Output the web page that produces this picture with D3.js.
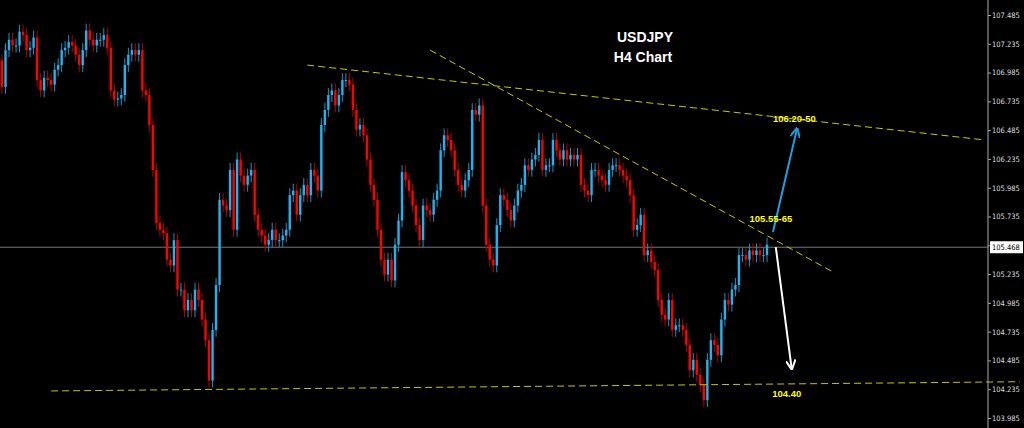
<!DOCTYPE html>
<html>
<head>
<meta charset="utf-8">
<script src="https://cdn.jsdelivr.net/npm/d3@7"></script>
<style>
  html, body { margin: 0; padding: 0; background: #000; }
  svg { display: block; }
</style>
</head>
<body>
<svg></svg>
<script>
const width = 1024;
const height = 428;

// closing prices, H4 candles (open = previous close)
const closes = [
  106.86, 107.18, 107.27, 107.22, 107.22, 107.34, 107.31, 107.18, 107.20, 107.29,
  106.92, 106.83, 106.94, 106.92, 106.88, 107.01, 107.05, 107.18, 107.20, 107.25,
  107.22, 107.14, 107.05, 107.18, 107.35, 107.27, 107.22, 107.27, 107.27, 107.31,
  107.20, 106.83, 106.75, 106.76, 106.79, 107.05, 107.14, 107.18, 107.14, 107.18,
  106.83, 106.79, 106.53, 106.14, 105.68, 105.62, 105.59, 105.36, 105.31, 105.53,
  105.10, 105.10, 104.92, 105.01, 104.92, 105.10, 105.01, 104.84, 104.66, 104.31,
  104.75, 105.14, 105.88, 105.83, 105.79, 106.14, 105.62, 106.23, 106.09, 106.01,
  106.09, 106.14, 105.75, 105.62, 105.57, 105.49, 105.53, 105.62, 105.53, 105.53,
  105.57, 105.62, 105.92, 105.96, 105.75, 105.92, 106.01, 105.92, 106.14, 106.09,
  105.96, 106.53, 106.66, 106.79, 106.83, 106.70, 106.79, 106.92, 106.92, 106.88,
  106.66, 106.49, 106.53, 106.44, 106.23, 106.01, 105.88, 105.62, 105.36, 105.23,
  105.36, 105.18, 105.49, 105.70, 106.12, 106.05, 105.96, 105.83, 105.66, 105.53,
  105.83, 105.79, 105.75, 105.88, 105.96, 106.31, 106.44, 106.40, 106.31, 106.14,
  106.01, 105.96, 106.05, 106.14, 106.66, 106.62, 106.70, 105.83, 105.49, 105.36,
  105.31, 105.66, 105.92, 105.88, 105.79, 105.70, 105.83, 105.96, 106.01, 106.18,
  106.14, 106.23, 106.27, 106.40, 106.14, 106.18, 106.18, 106.40, 106.31, 106.23,
  106.31, 106.23, 106.27, 106.23, 106.27, 106.01, 105.96, 105.92, 106.14, 106.14,
  106.09, 106.05, 106.01, 106.14, 106.18, 106.18, 106.14, 106.09, 106.05, 105.92,
  105.62, 105.66, 105.75, 105.40, 105.44, 105.34, 105.27, 105.01, 104.88, 104.84,
  105.01, 104.75, 104.79, 104.79, 104.75, 104.62, 104.40, 104.49, 104.36, 104.27,
  104.14, 104.49, 104.66, 104.62, 104.53, 104.84, 105.01, 104.97, 105.10, 105.14,
  105.40, 105.40, 105.36, 105.44, 105.40, 105.44, 105.40, 105.40, 105.49
];
const firstOpen = 107.09;
const wick = 0.06;

const priceTicks = [107.485, 107.235, 106.985, 106.735, 106.485, 106.235, 105.985,
  105.735, 105.485, 105.235, 104.985, 104.735, 104.485, 104.235, 103.985];
const lastPrice = 105.468;

// trend lines as [candle index, price]
const trendLines = [
  [[87, 107.05], [280, 106.40]],
  [[122, 107.18], [237, 105.25]],
  [[14, 104.22], [290, 104.30]]
];
const arrows = [
  { from: [219.7, 105.60], to: [226.5, 106.49], color: "#1e9fe0" },
  { from: [220.5, 105.47], to: [225, 104.42], color: "#ffffff" }
];
const levelLabels = [
  { at: [219.7, 106.56], text: "106.20-50" },
  { at: [213, 105.69], text: "105.55-65" },
  { at: [219.5, 104.17], text: "104.40" }
];

const candles = closes.map((c, i) => {
  const o = i === 0 ? firstOpen : closes[i - 1];
  return { i, o, c, h: Math.max(o, c) + wick, l: Math.min(o, c) - wick };
});

const axisX = 988;
const x = d3.scaleLinear().domain([0, closes.length - 1]).range([2, 767]);
const y = d3.scaleLinear().domain([103.985, 107.485]).range([418, 15]);

const svg = d3.select("svg").attr("width", width).attr("height", height);
svg.append("rect").attr("width", width).attr("height", height).attr("fill", "#000");

// current price line
svg.append("line")
  .attr("x1", 0).attr("x2", axisX)
  .attr("y1", y(lastPrice)).attr("y2", y(lastPrice))
  .attr("stroke", "#777").attr("stroke-width", 1);

// candles
const g = svg.append("g");
g.selectAll("line.wick")
  .data(candles)
  .join("line")
  .attr("x1", d => x(d.i)).attr("x2", d => x(d.i))
  .attr("y1", d => y(d.h)).attr("y2", d => y(d.l))
  .attr("stroke", d => d.c >= d.o ? "#1596c8" : "#b00000")
  .attr("stroke-width", 1);
g.selectAll("rect")
  .data(candles)
  .join("rect")
  .attr("x", d => x(d.i) - 1.2)
  .attr("width", 2.4)
  .attr("y", d => y(Math.max(d.o, d.c)))
  .attr("height", d => Math.max(1, Math.abs(y(d.o) - y(d.c))))
  .attr("fill", d => d.c >= d.o ? "#1eb4f0" : "#ff0000");

// trend lines
svg.append("g").selectAll("line")
  .data(trendLines)
  .join("line")
  .attr("x1", d => x(d[0][0])).attr("y1", d => y(d[0][1]))
  .attr("x2", d => x(d[1][0])).attr("y2", d => y(d[1][1]))
  .attr("stroke", "#c8c800")
  .attr("stroke-width", 1)
  .attr("stroke-dasharray", "7,4");

// arrows
const defs = svg.append("defs");
arrows.forEach((a, k) => {
  defs.append("marker")
    .attr("id", "arr" + k)
    .attr("viewBox", "0 0 10 10").attr("refX", 8).attr("refY", 5)
    .attr("markerWidth", 5).attr("markerHeight", 5)
    .attr("orient", "auto")
    .append("path").attr("d", "M0,0 L10,5 L0,10").attr("fill", "none")
    .attr("stroke", a.color).attr("stroke-width", 2);
  svg.append("line")
    .attr("x1", x(a.from[0])).attr("y1", y(a.from[1]))
    .attr("x2", x(a.to[0])).attr("y2", y(a.to[1]))
    .attr("stroke", a.color).attr("stroke-width", 2)
    .attr("marker-end", `url(#arr${k})`);
});

// level labels
svg.append("g").selectAll("text")
  .data(levelLabels)
  .join("text")
  .attr("x", d => x(d.at[0])).attr("y", d => y(d.at[1]))
  .attr("fill", "#ffff00")
  .attr("font-family", "Liberation Sans, Arial, sans-serif")
  .attr("font-size", 9.5).attr("font-weight", "bold")
  .text(d => d.text);

// title
svg.append("text").attr("x", 645).attr("y", 42).attr("text-anchor", "middle")
  .attr("fill", "#fff").attr("font-family", "Liberation Sans, Arial, sans-serif")
  .attr("font-size", 14).attr("font-weight", "bold").text("USDJPY");
svg.append("text").attr("x", 643).attr("y", 62).attr("text-anchor", "middle")
  .attr("fill", "#fff").attr("font-family", "Liberation Sans, Arial, sans-serif")
  .attr("font-size", 14).attr("font-weight", "bold").text("H4 Chart");

// right price axis
const yAxis = d3.axisRight(y).tickValues(priceTicks).tickSize(3).tickFormat(d3.format(".3f"));
svg.append("g")
  .attr("transform", `translate(${axisX},0)`)
  .call(yAxis)
  .call(g => g.select(".domain").attr("stroke", "#aaa").attr("d", `M0,0V${height}`))
  .call(g => g.selectAll(".tick line").attr("stroke", "#aaa"))
  .call(g => g.selectAll(".tick text")
    .attr("fill", "#ddd").attr("x", 4)
    .attr("font-family", "DejaVu Sans Condensed, DejaVu Sans, sans-serif").attr("font-size", 7.5));

// last price tag
svg.append("rect").attr("x", axisX + 2).attr("y", y(lastPrice) - 6)
  .attr("width", 33).attr("height", 12).attr("fill", "#fff");
svg.append("text").attr("x", axisX + 4).attr("y", y(lastPrice) + 3)
  .attr("fill", "#000").attr("font-family", "DejaVu Sans Condensed, DejaVu Sans, sans-serif")
  .attr("font-size", 7.5).text(d3.format(".3f")(lastPrice));
</script>
</body>
</html>
